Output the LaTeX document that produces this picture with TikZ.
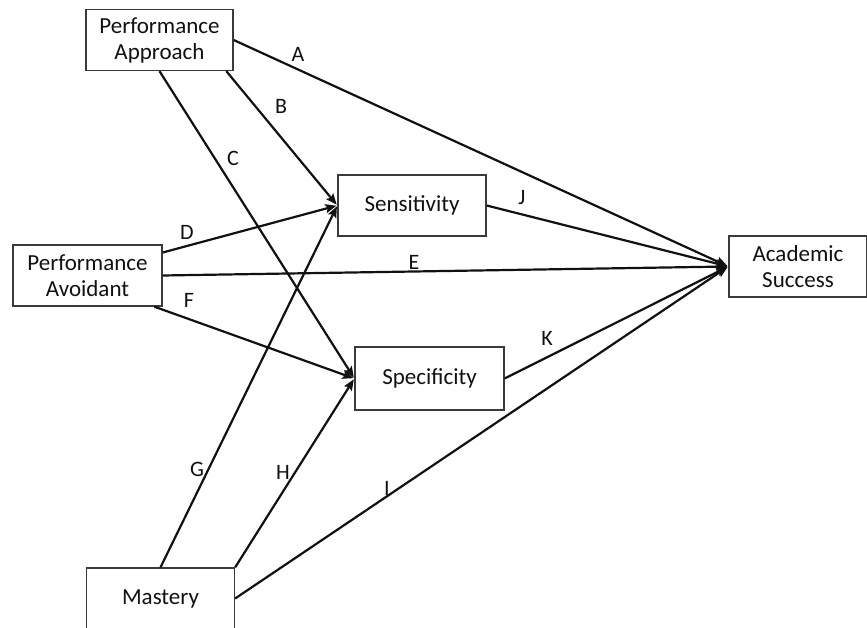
\documentclass[tikz,border=0pt]{standalone}
\usepackage{fontspec}
\setmainfont{Carlito}
\usetikzlibrary{arrows.meta}
\definecolor{ink}{HTML}{111111}
\definecolor{frameGray}{HTML}{3A3A3A}
\tikzset{
  factor card/.style={
    draw=frameGray,
    fill=white,
    line width=1.3pt,
    align=center,
    inner sep=0pt,
    minimum width=148pt,
    minimum height=61pt,
    font=\fontsize{23}{26}\selectfont,
    text=ink
  },
  path edge/.style={
    -{Stealth[length=11pt,width=9pt,inset=2pt]},
    draw=ink,
    line width=2.2pt,
    shorten >=1pt
  },
  path label/.style={
    font=\fontsize{22}{26}\selectfont,
    text=ink,
    inner sep=0pt
  }
}
\begin{document}
\begin{tikzpicture}[x=1pt,y=-1pt]
  \clip (0,0) rectangle (867,628);
  \fill[white] (0,0) rectangle (867,628);

  \node[factor card,minimum width=147pt] (approach) at (159.5,40) {Performance\\Approach};
  \node[factor card,minimum width=149pt] (avoidant) at (87.5,275.5) {Performance\\Avoidant};
  \node[factor card] (mastery) at (160.5,598.5) {Mastery};
  \node[factor card] (sensitivity) at (412,205.5) {Sensitivity};
  \node[factor card,minimum width=149pt,minimum height=63pt] (specificity) at (429.5,378.5) {Specificity};
  \node[factor card,minimum width=138pt] (success) at (798,266.5) {Academic\\Success};

  \draw[path edge] (approach.east) -- (success.west);
  \draw[path edge] (approach.-25) -- (sensitivity.west);
  \draw[path edge] (approach.south) -- (specificity.west);
  \draw[path edge] (avoidant.17) -- (sensitivity.west);
  \draw[path edge] (avoidant.east) -- (success.west);
  \draw[path edge] (avoidant.-25) -- (specificity.west);
  \draw[path edge] (mastery.north) -- (sensitivity.west);
  \draw[path edge] (mastery.north east) -- (specificity.west);
  \draw[path edge] (mastery.east) -- (success.west);
  \draw[path edge] (sensitivity.east) -- (success.west);
  \draw[path edge] (specificity.east) -- (success.west);

  \node[path label] (labelA) at (298,54) {A};
  \node[path label] (labelB) at (281,106) {B};
  \node[path label] (labelC) at (233,158) {C};
  \node[path label] (labelD) at (187,232) {D};
  \node[path label] (labelE) at (414,262) {E};
  \node[path label] (labelF) at (189,300) {F};
  \node[path label] (labelG) at (197,469) {G};
  \node[path label] (labelH) at (283,472) {H};
  \node[path label] (labelI) at (387,488) {I};
  \node[path label] (labelJ) at (522,198) {J};
  \node[path label] (labelK) at (547,338) {K};
\end{tikzpicture}
\end{document}
